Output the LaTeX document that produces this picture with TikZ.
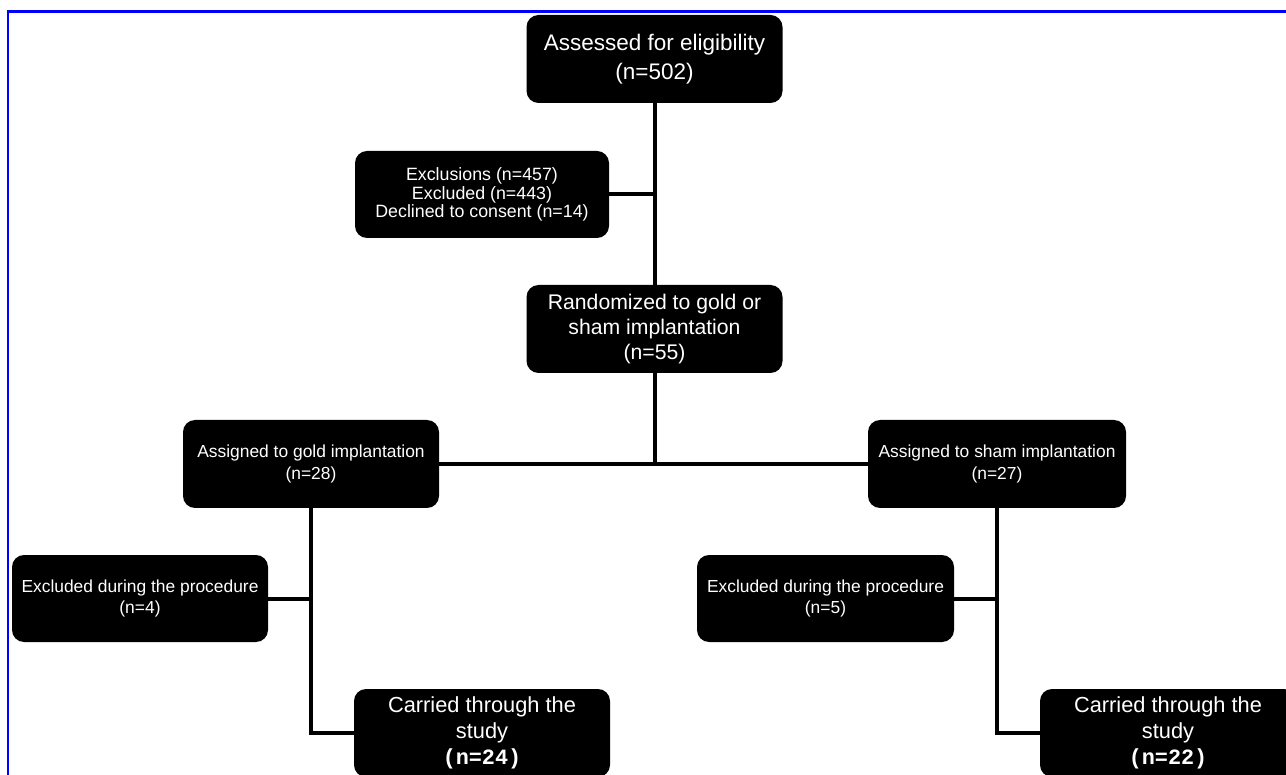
\documentclass[tikz,border=0pt]{standalone}
\usepackage{fontspec}
\setmainfont{Liberation Sans}
\newfontfamily\monofnt{Liberation Mono}
\begin{document}
\begin{tikzpicture}[x=1pt,y=-1pt,
  box/.style={fill=black, rounded corners=12pt, text=white, align=center, inner sep=0pt},
  link/.style={draw=black, line width=4pt},
  frameline/.style={draw=blue, line width=2.5pt}]
\useasboundingbox (0,0) rectangle (1286,775);
\fill[white] (0,0) rectangle (1286,775);
% frame
\draw[frameline] (1290,11.5) -- (8,11.5) -- (8,780);
% nodes
\node[box, minimum width=256pt, minimum height=88pt, font=\fontsize{22.5}{29}\selectfont] (assess) at (654.5,59) {Assessed for eligibility\\(n=502)};
\node[box, minimum width=254pt, minimum height=87pt, font=\fontsize{17.8}{18.5}\selectfont] (excl) at (482,194.5) {Exclusions (n=457)\\Excluded (n=443)\\Declined to consent (n=14)};
\node[box, minimum width=256pt, minimum height=88pt, font=\fontsize{21.2}{25}\selectfont] (rand) at (654.5,329) {Randomized to gold or\\sham implantation\\(n=55)};
\node[box, minimum width=256pt, minimum height=88pt, font=\fontsize{17.4}{22}\selectfont] (gold) at (311,464) {Assigned to gold implantation\\(n=28)};
\node[box, minimum width=258pt, minimum height=88pt, font=\fontsize{17.4}{22}\selectfont] (sham) at (997,464) {Assigned to sham implantation\\(n=27)};
\node[box, minimum width=256pt, minimum height=87pt, font=\fontsize{17.4}{21}\selectfont] (exg) at (140,598.5) {Excluded during the procedure\\(n=4)};
\node[box, minimum width=257pt, minimum height=87pt, font=\fontsize{17.4}{21}\selectfont] (exs) at (825.5,598.5) {Excluded during the procedure\\(n=5)};
\node[box, minimum width=256pt, minimum height=88pt, font=\fontsize{21.8}{26}\selectfont] (carg) at (482,733) {Carried through the\\study\\{\monofnt\bfseries (n=24)}};
\node[box, minimum width=256pt, minimum height=88pt, font=\fontsize{21.8}{26}\selectfont] (cars) at (1168,733) {Carried through the\\study\\{\monofnt\bfseries (n=22)}};
% connectors
\draw[link] (assess.south) -- (rand.north);
\draw[link] (excl.east) -- (excl.east -| assess.south);
\draw[link] (rand.south) -- (rand.south |- gold.east);
\draw[link] (gold.east) -- (sham.west);
\draw[link] (gold.south) |- (carg.west);
\draw[link] (exg.east) -- (exg.east -| gold.south);
\draw[link] (sham.south) |- (cars.west);
\draw[link] (exs.east) -- (exs.east -| sham.south);
\end{tikzpicture}
\end{document}
